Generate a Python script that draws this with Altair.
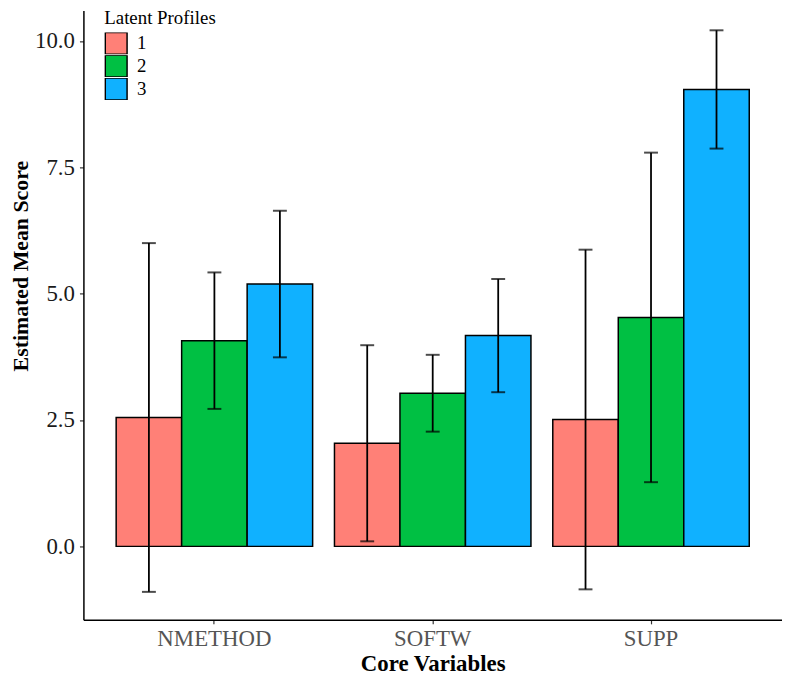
import altair as alt
import pandas as pd

variables = ["NMETHOD", "SOFTW", "SUPP"]
profiles = ["1", "2", "3"]
means = {
    "NMETHOD": [2.55, 4.07, 5.19],
    "SOFTW": [2.04, 3.03, 4.17],
    "SUPP": [2.51, 4.53, 9.04],
}
errors = {
    "NMETHOD": [3.45, 1.35, 1.45],
    "SOFTW": [1.94, 0.76, 1.12],
    "SUPP": [3.36, 3.26, 1.17],
}
colors = ["#FF8077", "#00C043", "#10B1FF"]
y_ticks = [0.0, 2.5, 5.0, 7.5, 10.0]

rows = []
for v in variables:
    for i, p in enumerate(profiles):
        m = means[v][i]
        e = errors[v][i]
        rows.append({"var": v, "profile": p, "mean": m, "lo": m - e, "hi": m + e})
df = pd.DataFrame(rows)

FONT = "Liberation Serif"

x = alt.X("var:N", sort=variables,
          scale=alt.Scale(paddingInner=0.1, paddingOuter=0.15),
          axis=alt.Axis(title="Core Variables", labelAngle=0))
xo = alt.XOffset("profile:N", sort=profiles, scale=alt.Scale(paddingInner=0, paddingOuter=0))
yscale = alt.Scale(domain=[-1.454, 10.60], nice=False, zero=False)
color = alt.Color("profile:N", sort=profiles,
                  scale=alt.Scale(domain=profiles, range=colors),
                  legend=alt.Legend(title="Latent Profiles", orient="none",
                                    legendX=21, legendY=-1))

base = alt.Chart(df)

bars = base.mark_bar(stroke="black", strokeWidth=1.5).encode(
    x=x, xOffset=xo,
    y=alt.Y("mean:Q", scale=yscale,
            axis=alt.Axis(title="Estimated Mean Score", values=y_ticks, format=".1f",
                          titleY=257)),
    y2=alt.datum(0),
    color=color,
)

rule = base.mark_rule(color="black", strokeWidth=1.8).encode(
    x=x, xOffset=xo,
    y=alt.Y("lo:Q", scale=yscale),
    y2="hi:Q",
)
cap_lo = base.mark_tick(color="black", orient="horizontal", size=14, thickness=2).encode(
    x=x, xOffset=xo, y=alt.Y("lo:Q", scale=yscale),
)
cap_hi = base.mark_tick(color="black", orient="horizontal", size=14, thickness=2).encode(
    x=x, xOffset=xo, y=alt.Y("hi:Q", scale=yscale),
)

chart = alt.layer(bars, rule, cap_lo, cap_hi).properties(
    width=704, height=614,
    autosize=alt.AutoSizeParams(type="none"),
    padding={"left": 76, "top": 0, "right": 0, "bottom": 61},
).configure_view(stroke=None).configure_axis(
    grid=False,
    domainColor="black", domainWidth=1.5,
    tickColor="#333333", tickWidth=1.2, tickSize=4,
    labelFont=FONT, titleFont=FONT,
    titleFontWeight="bold", titleColor="black",
).configure_axisY(
    labelFontSize=23, labelColor="#1a1a1a", labelPadding=5,
    titleFontSize=22, titlePadding=2,
).configure_axisX(
    labelFontSize=23, labelColor="#555555", labelPadding=4,
    titleFontSize=23, titlePadding=2,
).configure_legend(
    titleFont=FONT, titleFontSize=19, titleFontWeight="normal", titleColor="black",
    labelFont=FONT, labelFontSize=19, labelColor="black",
    symbolType="square", symbolSize=484, symbolStrokeColor="black",
    symbolStrokeWidth=1.5, rowPadding=1, clipHeight=22, labelOffset=9, titlePadding=4,
    symbolOpacity=1,
)

chart.save("out.html", embed_options={"renderer": "svg", "actions": False})
